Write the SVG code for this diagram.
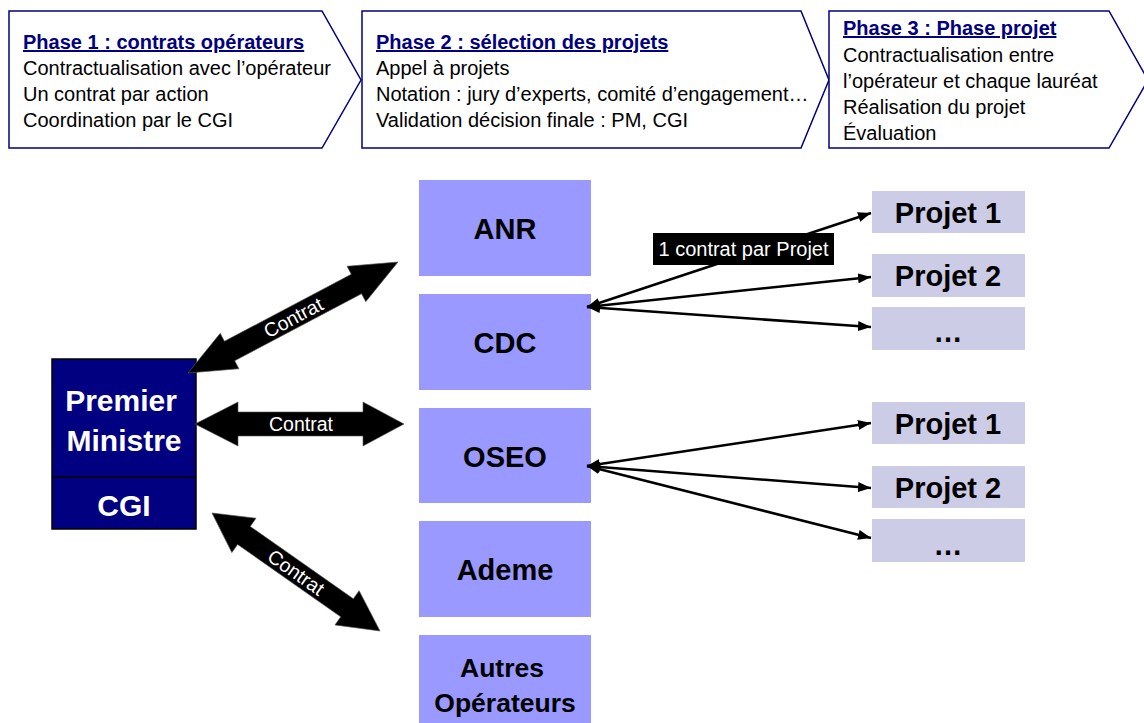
<svg xmlns="http://www.w3.org/2000/svg" width="1144" height="723" viewBox="0 0 1144 723">
<style>
text{font-family:"Liberation Sans",Arial,sans-serif}
.phase{fill:#fff;stroke:#000080;stroke-width:1.5}
.ph-title{font-size:20px;font-weight:bold;fill:#000080;text-decoration:underline}
.ph-body{font-size:20px;fill:#000}
.op{fill:#9999ff}
.op-t{font-size:29px;font-weight:bold;fill:#000;text-anchor:middle}
.op-s{font-size:26.5px;font-weight:bold;fill:#000;text-anchor:middle}
.pm{fill:#000080;stroke:#000;stroke-width:1.5}
.pm-t{font-size:30px;font-weight:bold;fill:#fff;text-anchor:middle}
.pj{fill:#ccccE6}
.pj-t{font-size:29px;font-weight:bold;fill:#000;text-anchor:middle}
.thin{stroke:#000;stroke-width:2.6;fill:none;marker-start:url(#ah);marker-end:url(#ah)}
.block{fill:#000;stroke:#555;stroke-width:0.6}
.block-t{font-size:19.5px;fill:#fff;text-anchor:middle}
.lbl-bg{fill:#000}
.lbl-t{font-size:20px;fill:#fff;text-anchor:middle}
</style>
<defs>
<marker id="ah" viewBox="0 0 13 10" refX="13" refY="5" markerWidth="13" markerHeight="10" markerUnits="userSpaceOnUse" orient="auto-start-reverse">
<path d="M0,0 L13,5 L0,10 z" fill="#000"/>
</marker>
</defs>
<rect width="1144" height="723" fill="#fff"/>

<g id="phase1">
<path class="phase" d="M9,11 H322 L361,80 L322,148 H9 Z"/>
<text class="ph-title" x="23" y="49">Phase 1 : contrats opérateurs</text>
<text class="ph-body" x="23" y="75">Contractualisation avec l’opérateur</text>
<text class="ph-body" x="23" y="101">Un contrat par action</text>
<text class="ph-body" x="23" y="127">Coordination par le CGI</text>
</g>
<g id="phase2">
<path class="phase" d="M362,11 H801 L829,80 L801,148 H362 Z"/>
<text class="ph-title" x="376" y="49">Phase 2 : sélection des projets</text>
<text class="ph-body" x="376" y="75">Appel à projets</text>
<text class="ph-body" x="376" y="101">Notation : jury d’experts, comité d’engagement…</text>
<text class="ph-body" x="376" y="127">Validation décision finale : PM, CGI</text>
</g>
<g id="phase3">
<path class="phase" d="M829,11 H1109 L1148,80 L1109,148 H829 Z"/>
<text class="ph-title" x="843" y="35">Phase 3 : Phase projet</text>
<text class="ph-body" x="843" y="62">Contractualisation entre</text>
<text class="ph-body" x="843" y="88">l’opérateur et chaque lauréat</text>
<text class="ph-body" x="843" y="114">Réalisation du projet</text>
<text class="ph-body" x="843" y="140">Évaluation</text>
</g>

<g id="pm">
<rect class="pm" x="52" y="359" width="144" height="170"/>
<line x1="52" y1="477" x2="196" y2="477" stroke="#000" stroke-width="1.5"/>
<text class="pm-t" x="121" y="411">Premier</text>
<text class="pm-t" x="124" y="451">Ministre</text>
<text class="pm-t" x="124" y="516">CGI</text>
</g>

<g id="anr"><rect class="op" x="419" y="180" width="172" height="96"/><text class="op-t" x="505" y="239">ANR</text></g>
<g id="cdc"><rect class="op" x="419" y="294" width="172" height="96"/><text class="op-t" x="505" y="353">CDC</text></g>
<g id="oseo"><rect class="op" x="419" y="408" width="172" height="95"/><text class="op-t" x="505" y="467">OSEO</text></g>
<g id="ademe"><rect class="op" x="419" y="521" width="172" height="96"/><text class="op-t" x="505" y="580">Ademe</text></g>
<g id="autres"><rect class="op" x="419" y="635" width="172" height="96"/><text class="op-s" x="502" y="677">Autres</text><text class="op-s" x="505" y="712">Opérateurs</text></g>

<g id="cdc-projet1"><rect class="pj" x="872" y="191" width="153" height="42"/><text class="pj-t" x="948" y="223">Projet 1</text></g>
<g id="cdc-projet2"><rect class="pj" x="872" y="254" width="153" height="43"/><text class="pj-t" x="948" y="286">Projet 2</text></g>
<g id="cdc-etc"><rect class="pj" x="872" y="307" width="153" height="43"/><text class="pj-t" x="948" y="342">…</text></g>
<g id="oseo-projet1"><rect class="pj" x="872" y="402" width="153" height="42"/><text class="pj-t" x="948" y="434">Projet 1</text></g>
<g id="oseo-projet2"><rect class="pj" x="872" y="466" width="153" height="42"/><text class="pj-t" x="948" y="498">Projet 2</text></g>
<g id="oseo-etc"><rect class="pj" x="872" y="519" width="153" height="43"/><text class="pj-t" x="948" y="555">…</text></g>

<g id="connectors">
<g transform="translate(188,373) rotate(-27.86)">
<polygon class="block" points="0,0 47,-20 47,-11 190.5,-11 190.5,-20 237.5,0 190.5,20 190.5,11 47,11 47,20"/>
<text class="block-t" x="119" y="7">Contrat</text>
</g>
<g transform="translate(195,424)">
<polygon class="block" points="0,0 43,-22 43,-12 168,-12 168,-22 209,0 168,22 168,12 43,12 43,22"/>
<text class="block-t" x="106" y="7">Contrat</text>
</g>
<g transform="translate(212,513) rotate(35.08)">
<polygon class="block" points="0,0 39,-21 39,-11 165,-11 165,-21 205.3,0 165,21 165,11 39,11 39,21"/>
<text class="block-t" x="103" y="7">Contrat</text>
</g>
<line class="thin" x1="587" y1="307" x2="871" y2="213"/>
<line class="thin" x1="587" y1="307" x2="871" y2="277"/>
<line class="thin" x1="587" y1="307" x2="871" y2="327"/>
<line class="thin" x1="587" y1="466" x2="871" y2="423"/>
<line class="thin" x1="587" y1="466" x2="871" y2="488"/>
<line class="thin" x1="587" y1="466" x2="871" y2="538"/>
<rect class="lbl-bg" x="653" y="233" width="181" height="32"/>
<text class="lbl-t" x="743.5" y="256">1 contrat par Projet</text>
</g>
</svg>
